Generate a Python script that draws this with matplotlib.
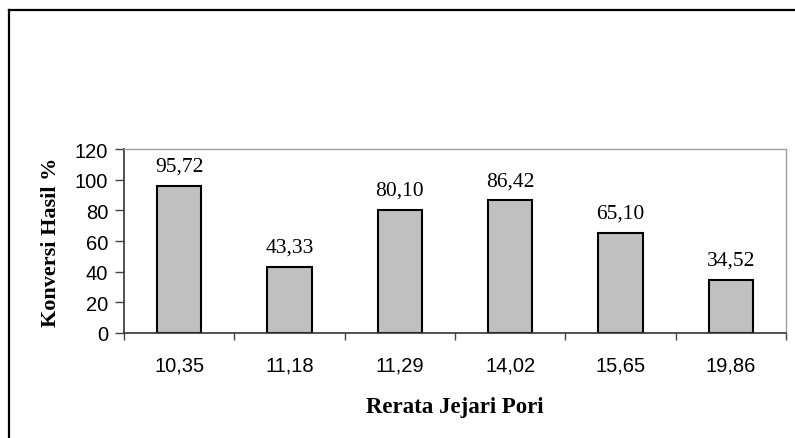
import matplotlib.pyplot as plt
from matplotlib.lines import Line2D

radius = ["10,35", "11,18", "11,29", "14,02", "15,65", "19,86"]
conversion = [95.72, 43.33, 80.10, 86.42, 65.10, 34.52]
yticks = [0, 20, 40, 60, 80, 100, 120]

W, H = 795, 439
fig = plt.figure(figsize=(W / 100, H / 100), dpi=100)

# outer frame: top and left edges only
fig.add_artist(Line2D([8.5 / W, 1.0], [1 - 11 / H, 1 - 11 / H], color="black", lw=1.6))
fig.add_artist(Line2D([8.5 / W, 8.5 / W], [0, 1 - 11 / H], color="black", lw=1.6))

left, right, top, bottom = 124, 786, 150, 334
ax = fig.add_axes([left / W, 1 - bottom / H, (right - left) / W, (bottom - top) / H])

x = list(range(len(radius)))
bars = ax.bar(x, conversion, width=0.4, color="#c0c0c0", edgecolor="black", linewidth=1.5)

for xi, v in zip(x, conversion):
    ax.annotate(f"{v:.2f}".replace(".", ","), (xi, v), xytext=(0, 11),
                textcoords="offset points", ha="center", va="baseline",
                family="Liberation Serif", fontsize=15.5)

ax.set_xlim(-0.5, len(radius) - 0.5)
ax.set_ylim(0, 120)
ax.set_yticks(yticks)
ax.set_yticklabels([str(t) for t in yticks], family="Liberation Sans", fontsize=14.5)

# category ticks sit between the bars
ax.set_xticks([i - 0.5 for i in range(len(radius) + 1)])
ax.set_xticklabels([])
ax.set_xticks(x, minor=True)
ax.set_xticklabels(radius, minor=True, family="Liberation Sans", fontsize=14.5)
ax.tick_params(axis="x", which="major", direction="out", length=5, width=1, color="#444444")
ax.tick_params(axis="x", which="minor", length=0, pad=16)
ax.tick_params(axis="y", direction="out", length=6.5, width=1, color="#444444", pad=5)

for side in ("top", "right"):
    ax.spines[side].set_color("#a0a0a0")
    ax.spines[side].set_linewidth(1)
for side in ("left", "bottom"):
    ax.spines[side].set_color("#333333")
    ax.spines[side].set_linewidth(1.2)

ax.set_xlabel("Rerata Jejari Pori", family="Liberation Serif", fontweight="bold",
              fontsize=16.5, labelpad=16)
ax.set_ylabel("Konversi Hasil %", family="Liberation Serif", fontweight="bold",
              fontsize=16, labelpad=10)

fig.savefig("out.png", dpi=100)
